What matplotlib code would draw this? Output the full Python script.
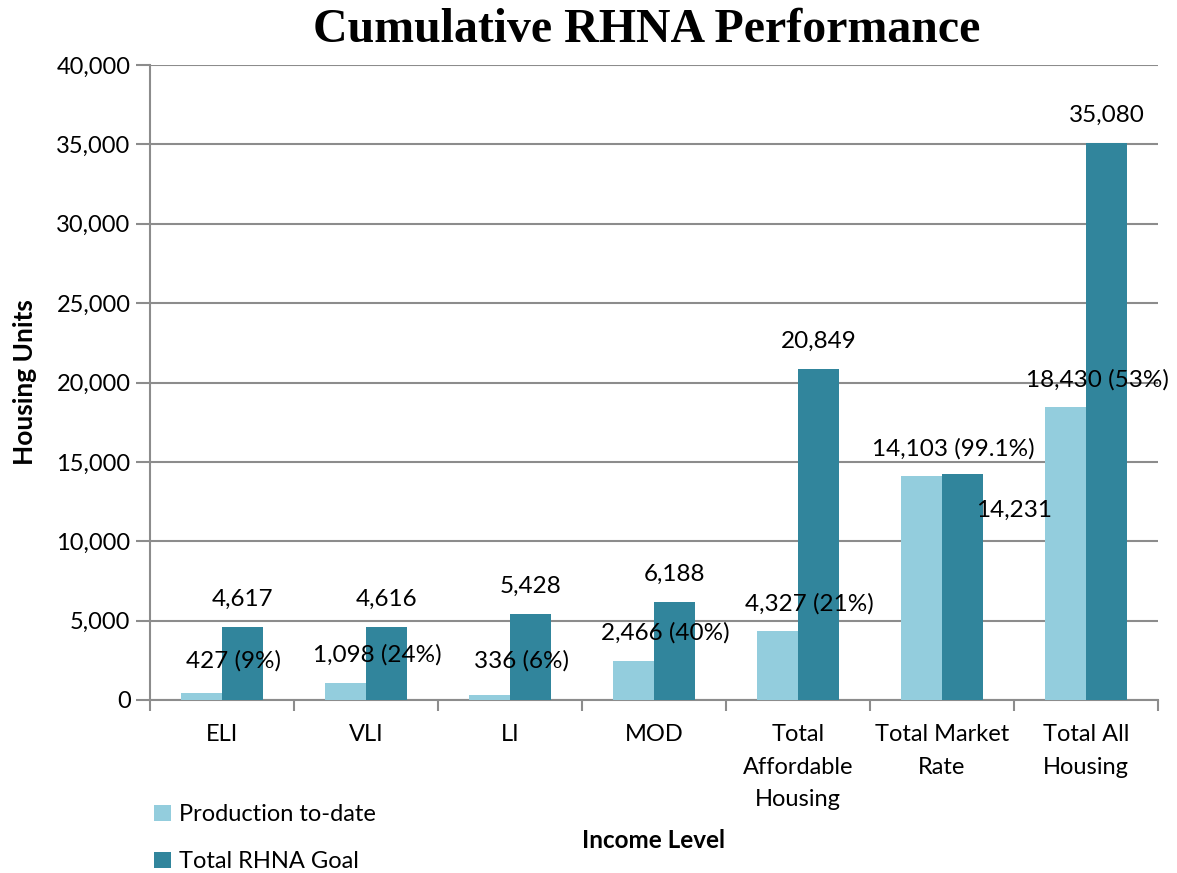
import matplotlib
matplotlib.use('Agg')
import matplotlib.pyplot as plt
import matplotlib.ticker as mticker
import numpy as np

categories = ['ELI', 'VLI', 'LI', 'MOD', 'Total\nAffordable\nHousing',
              'Total Market\nRate', 'Total All\nHousing']
production = [427, 1098, 336, 2466, 4327, 14103, 18430]
goal = [4617, 4616, 5428, 6188, 20849, 14231, 35080]
prod_labels = ['427 (9%)', '1,098 (24%)', '336 (6%)', '2,466 (40%)',
               '4,327 (21%)', '14,103 (99.1%)', '18,430 (53%)']
goal_labels = ['4,617', '4,616', '5,428', '6,188', '20,849', '14,231', '35,080']

light = '#93CDDD'
dark = '#31859C'
grid_c = '#8C8C8C'

plt.rcParams['font.family'] = ['Lato', 'DejaVu Sans']

fig = plt.figure(figsize=(11.77, 8.73), dpi=100)
ax = fig.add_axes([150/1177, 1-700/873, 1008/1177, 635/873])

x = np.arange(len(categories))
w = 0.285
ax.bar(x - w/2, production, w, color=light, label='Production to-date', zorder=3)
ax.bar(x + w/2, goal, w, color=dark, label='Total RHNA Goal', zorder=3)

ax.set_xlim(-0.5, len(categories) - 0.5)
ax.set_ylim(0, 40000)
ax.yaxis.set_major_locator(mticker.MultipleLocator(5000))
ax.yaxis.set_major_formatter(mticker.FuncFormatter(lambda v, p: f'{int(v):,}'))
ax.grid(axis='y', color=grid_c, linewidth=1.5, zorder=0)

ax.set_xticks(x)
ax.set_xticklabels(categories, fontsize=17, linespacing=1.7, va='top')
ax.set_xticks(np.arange(-0.5, len(categories)), minor=True)
ax.tick_params(axis='x', which='major', length=0, pad=17)
ax.tick_params(axis='x', which='minor', length=8, width=1.5, color=grid_c)
ax.tick_params(axis='y', length=10, width=1.5, color=grid_c, labelsize=17, pad=4)

for s in ['top', 'right']:
    ax.spines[s].set_visible(False)
for s in ['left', 'bottom']:
    ax.spines[s].set_color(grid_c)
    ax.spines[s].set_linewidth(1.5)

# data labels
for i in range(len(categories)):
    if goal_labels[i] == '14,231':
        ax.annotate(goal_labels[i], (x[i] + w, goal[i]), xytext=(22, -26),
                    textcoords='offset points', ha='center', va='center', fontsize=17.5)
    else:
        ax.annotate(goal_labels[i], (x[i] + w/2, goal[i]), xytext=(0, 20),
                    textcoords='offset points', ha='center', va='center', fontsize=17.5)
    ax.annotate(prod_labels[i], (x[i] + 0.08, max(production[i], 700)),
                xytext=(0, 20), textcoords='offset points',
                ha='center', va='center', fontsize=17.5)

ax.set_ylabel('Housing Units', fontsize=19, fontweight='bold', labelpad=14)
fig.text(654/1177, 1-840/873, 'Income Level', fontsize=17.5, fontweight='bold',
         ha='center', va='center')
fig.suptitle('Cumulative RHNA Performance', x=647/1177, y=1-30/873, va='center',
             fontsize=34.5, fontweight='bold', family='Liberation Serif')

fig.legend(loc='upper left', bbox_to_anchor=(145/1177, 1-795/873), frameon=False,
           fontsize=17, handlelength=0.7, handleheight=0.7, handletextpad=0.35,
           labelspacing=1.1, borderaxespad=0)

fig.savefig('out.png', dpi=100)
